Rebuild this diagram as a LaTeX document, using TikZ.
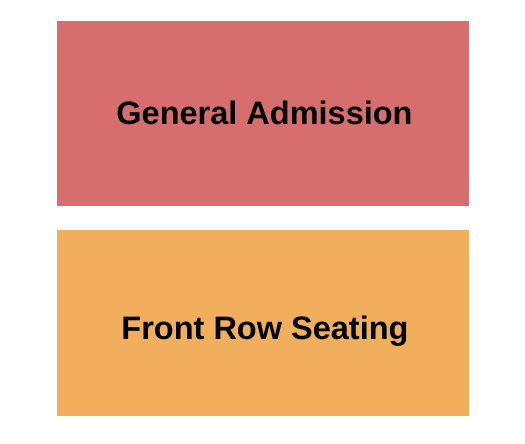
\documentclass[tikz,border=0pt]{standalone}
\usepackage{fontspec}
\setmainfont{Liberation Sans}
\definecolor{gared}{RGB}{215,110,110}
\definecolor{frorange}{RGB}{241,174,92}
\begin{document}
\begin{tikzpicture}[x=1pt,y=1pt,
  section/.style={draw=none,inner sep=0pt,outer sep=0pt},
  label/.style={font=\fontsize{32.5}{36}\selectfont\bfseries,text=black,anchor=base,inner sep=0pt}]
\useasboundingbox (0,0) rectangle (525,444);
\fill[white] (0,0) rectangle (525,444);
\node[section,fill=gared,minimum width=412pt,minimum height=184.7pt,anchor=north west] (ga) at (57,423) {};
\node[section,fill=frorange,minimum width=412pt,minimum height=185.7pt,anchor=north west] (fr) at (57,214) {};
\node[label] (galabel) at (264.5,319) {General Admission};
\node[label] (frlabel) at (265,104) {Front Row Seating};
\end{tikzpicture}
\end{document}
